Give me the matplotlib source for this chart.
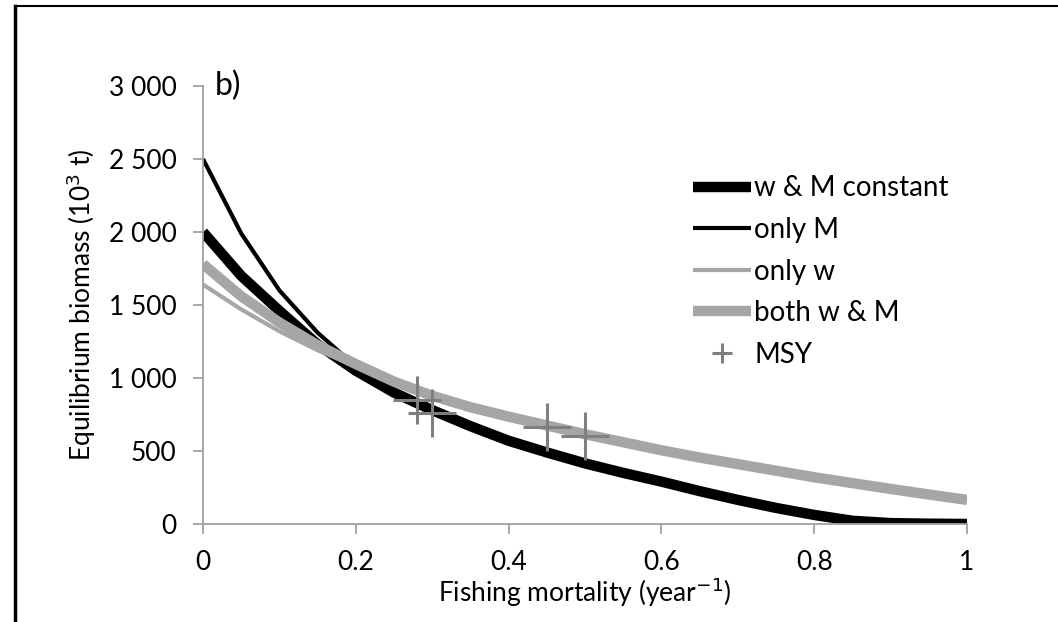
import matplotlib
matplotlib.use('Agg')
from matplotlib import pyplot as plt
from matplotlib.lines import Line2D

# fishing mortality grid (year^-1)
F = [0, 0.05, 0.1, 0.15, 0.2, 0.25, 0.3, 0.35, 0.4, 0.45, 0.5,
     0.55, 0.6, 0.65, 0.7, 0.75, 0.8, 0.85, 0.9, 0.95, 1.0]

# equilibrium biomass (10^3 t)
wM_const = [2000, 1700, 1460, 1230, 1050, 900, 780, 670, 570, 490, 415,
            350, 290, 225, 165, 110, 62, 22, 6, 2, 0]
only_M = [2500, 1990, 1600, 1310, 1080, 910, 775, 670, 575, 495, 425,
          362, 302, 242, 182, 122, 72, 32, 10, 3, 0]
only_w = [1640, 1470, 1320, 1190, 1080, 968, 870, 795, 728, 668, 610,
          555, 500, 450, 405, 360, 316, 276, 236, 198, 160]
both_wM = [1780, 1560, 1380, 1225, 1095, 975, 878, 800, 735, 675, 615,
           560, 505, 455, 410, 365, 320, 280, 240, 202, 165]

# MSY points
msy_F = [0.28, 0.30, 0.45, 0.50]
msy_B = [850, 760, 664, 603]

plt.rcParams['font.family'] = ['Lato', 'DejaVu Sans']

fig = plt.figure(figsize=(10.58, 6.22), dpi=100)
ax = fig.add_axes([0.1919, 0.1576, 0.914 - 0.1919, 0.8617 - 0.1576])

ax.plot(F, wM_const, color='black', lw=7.5, solid_capstyle='butt', label='w & M constant')
ax.plot(F, only_M, color='black', lw=3, solid_capstyle='butt', label='only M')
ax.plot(F, only_w, color='#a6a6a6', lw=3, solid_capstyle='butt', label='only w')
ax.plot(F, both_wM, color='#a6a6a6', lw=7.5, solid_capstyle='butt', label='both w & M')
ax.plot(msy_F, msy_B, ls='none', marker='+', ms=35, mew=2.2, color='#7f7f7f', label='MSY')

ax.set_xlim(0, 1)
ax.set_ylim(0, 3000)
ax.set_xticks([0, 0.2, 0.4, 0.6, 0.8, 1])
ax.set_xticklabels(['0', '0.2', '0.4', '0.6', '0.8', '1'])
ax.set_yticks([0, 500, 1000, 1500, 2000, 2500, 3000])
ax.set_yticklabels(['0', '500', '1 000', '1 500', '2 000', '2 500', '3 000'])

for s in ['top', 'right']:
    ax.spines[s].set_visible(False)
for s in ['left', 'bottom']:
    ax.spines[s].set_color('#a0a0a0')
    ax.spines[s].set_linewidth(1.3)
ax.tick_params(axis='both', direction='out', length=7, width=1.3, color='#a0a0a0',
               labelsize=19)
ax.tick_params(axis='y', pad=12)
ax.tick_params(axis='x', pad=12)

ax.set_xlabel('Fishing mortality (year$^{-1}$)', fontsize=19, labelpad=0)
ax.set_ylabel('Equilibrium biomass (10$^3$ t)', fontsize=19, labelpad=8)

ax.text(0.015, 1.0, 'b)', transform=ax.transAxes, fontsize=23, va='center', ha='left')

leg = ax.legend(loc='upper left', bbox_to_anchor=(0.655, 0.718), bbox_transform=fig.transFigure,
                frameon=False, fontsize=20, handlelength=2.1, handletextpad=0.1,
                labelspacing=0.56, borderpad=0, borderaxespad=0, markerscale=0.4)

# frame lines around the panel
fig.add_artist(Line2D([0.0142, 0.0142], [0, 0.990], color='black', lw=2.5,
                      transform=fig.transFigure))
fig.add_artist(Line2D([0.0142, 0.999], [0.990, 0.990], color='black', lw=1.5,
                      transform=fig.transFigure))

plt.savefig('out.png', dpi=100)
